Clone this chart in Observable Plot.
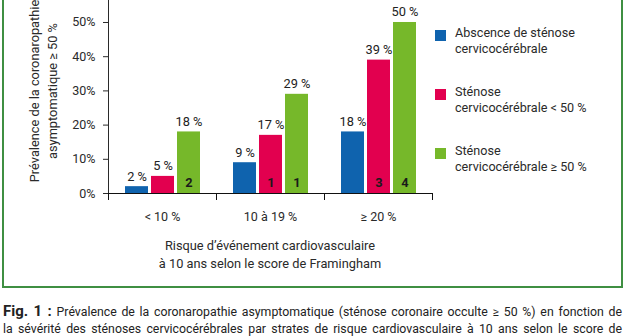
<!DOCTYPE html>
<html>
<head>
<meta charset="utf-8">
<script src="https://cdn.jsdelivr.net/npm/d3@7"></script>
<script src="https://cdn.jsdelivr.net/npm/@observablehq/plot@0.6"></script>
<style>
  html, body { margin: 0; padding: 0; background: #fff; }
  #page { position: relative; width: 629px; height: 336px; overflow: hidden; font-family: Roboto, "Liberation Sans", sans-serif; color: #2a2a2a; }
  #frame { position: absolute; left: 2px; top: -20px; width: 621px; height: 308px; box-sizing: border-box; border: 2px solid #3f8f42; }
  #chart { position: absolute; left: 0; top: 0; }
  .ytitle { position: absolute; left: -56px; top: 73px; width: 200px; height: 36px; transform: rotate(-90deg); transform-origin: 50% 50%; text-align: center; font-size: 12.8px; line-height: 18px; white-space: nowrap; }
  .xtitle { position: absolute; left: 108px; top: 237px; width: 324px; text-align: center; font-size: 12.8px; line-height: 18px; }
  .leg { position: absolute; left: 435px; }
  .leg .sw { position: absolute; left: 0; width: 11px; height: 11px; }
  .leg .lab { position: absolute; left: 20px; top: 0; font-size: 12.6px; line-height: 16px; white-space: nowrap; }
  .cap { position: absolute; left: 3px; width: 619px; font-size: 12.3px; line-height: 18px; text-align: justify; text-align-last: justify; white-space: nowrap; color: #222; }
  .cap b { font-size: 15px; }
</style>
</head>
<body>
<div id="page">
  <div id="frame"></div>
  <div id="chart"></div>
  <div class="ytitle">Prévalence de la coronaropathie<br>asymptomatique ≥ 50 %</div>
  <div class="xtitle">Risque d’événement cardiovasculaire<br>à 10 ans selon le score de Framingham</div>
  <div id="legend"></div>
  <div class="cap" style="top:302px"><b>Fig. 1 :</b> Prévalence de la coronaropathie asymptomatique (sténose coronaire occulte ≥ 50 %) en fonction de</div>
  <div class="cap" style="top:320px">la sévérité des sténoses cervicocérébrales par strates de risque cardiovasculaire à 10 ans selon le score de</div>
</div>
<script>
const categories = ["< 10 %", "10 à 19 %", "≥ 20 %"];
const series = ["Abscence de sténose cervicocérébrale", "Sténose cervicocérébrale < 50 %", "Sténose cervicocérébrale ≥ 50 %"];
const seriesLines = [["Abscence de sténose", "cervicocérébrale"], ["Sténose", "cervicocérébrale < 50 %"], ["Sténose", "cervicocérébrale ≥ 50 %"]];
const absence = [2, 9, 18];
const stenoseLt50 = [5, 17, 39];
const stenoseGe50 = [18, 29, 50];
const countsAbsence = [null, null, null];
const countsLt50 = [null, 1, 3];
const countsGe50 = [2, 1, 4];
const colors = ["#0f63ae", "#e2004f", "#76b82a"];
const yTicks = [0, 10, 20, 30, 40, 50];

const valuesBySeries = [absence, stenoseLt50, stenoseGe50];
const countsBySeries = [countsAbsence, countsLt50, countsGe50];
const rows = [];
categories.forEach((c, i) => {
  series.forEach((s, j) => {
    rows.push({cat: c, series: s, value: valuesBySeries[j][i], n: countsBySeries[j][i]});
  });
});

const chart = Plot.plot({
  width: 440,
  height: 232,
  marginLeft: 108,
  marginRight: 8,
  marginTop: 0,
  marginBottom: 39,
  style: {fontFamily: "Roboto, 'Liberation Sans', sans-serif", fontSize: "12.5px", color: "#2a2a2a", background: "transparent"},
  fx: {domain: categories, padding: 0, label: null, axis: "bottom", tickSize: 0, tickPadding: 19},
  x: {domain: series, paddingInner: 0.12, paddingOuter: 0.6, axis: null},
  y: {domain: [0, 56.43], ticks: yTicks, tickFormat: d => d + "%", label: null, tickSize: 5, tickPadding: 8, line: true},
  color: {domain: series, range: colors},
  marks: [
    Plot.barY(rows, {fx: "cat", x: "series", y: "value", fill: "series"}),
    Plot.text(rows, {fx: "cat", x: "series", y: "value", text: d => d.value + " %", dy: -6, lineAnchor: "bottom", fill: "#222", fontSize: 12.8}),
    Plot.text(rows.filter(d => d.n != null), {fx: "cat", x: "series", y: () => 0, text: "n", dy: -11, fill: "#1a1a1a", fontWeight: "bold", fontSize: 12.8}),
    Plot.ruleY([0], {stroke: "#111"})
  ]
});
document.getElementById("chart").appendChild(chart);

// boundary ticks on x axis between groups, from the fx scale
const fxs = chart.scale("fx");
const yS = chart.scale("y");
const band = d3.scaleBand().domain(fxs.domain).range(fxs.range).padding(0);
const ys = d3.scaleLinear().domain(yS.domain).range(yS.range);
const edges = categories.map(c => band(c)).concat([band(categories[categories.length - 1]) + band.step()]);
const svg = d3.select(chart);
svg.append("g").selectAll("line").data(edges).join("line")
  .attr("x1", d => d + 0.5).attr("x2", d => d + 0.5)
  .attr("y1", ys(0)).attr("y2", ys(0) + 7)
  .attr("stroke", "#111");

// legend
const legend = d3.select("#legend");
const legTops = [30, 89, 148];
series.forEach((s, i) => {
  const item = legend.append("div").attr("class", "leg").style("top", legTops[i] + "px");
  item.append("div").attr("class", "sw").style("top", "0px").style("background", colors[i]);
  item.append("div").attr("class", "lab").style("top", "-5px").html(seriesLines[i].join("<br>"));
});
</script>
</body>
</html>
